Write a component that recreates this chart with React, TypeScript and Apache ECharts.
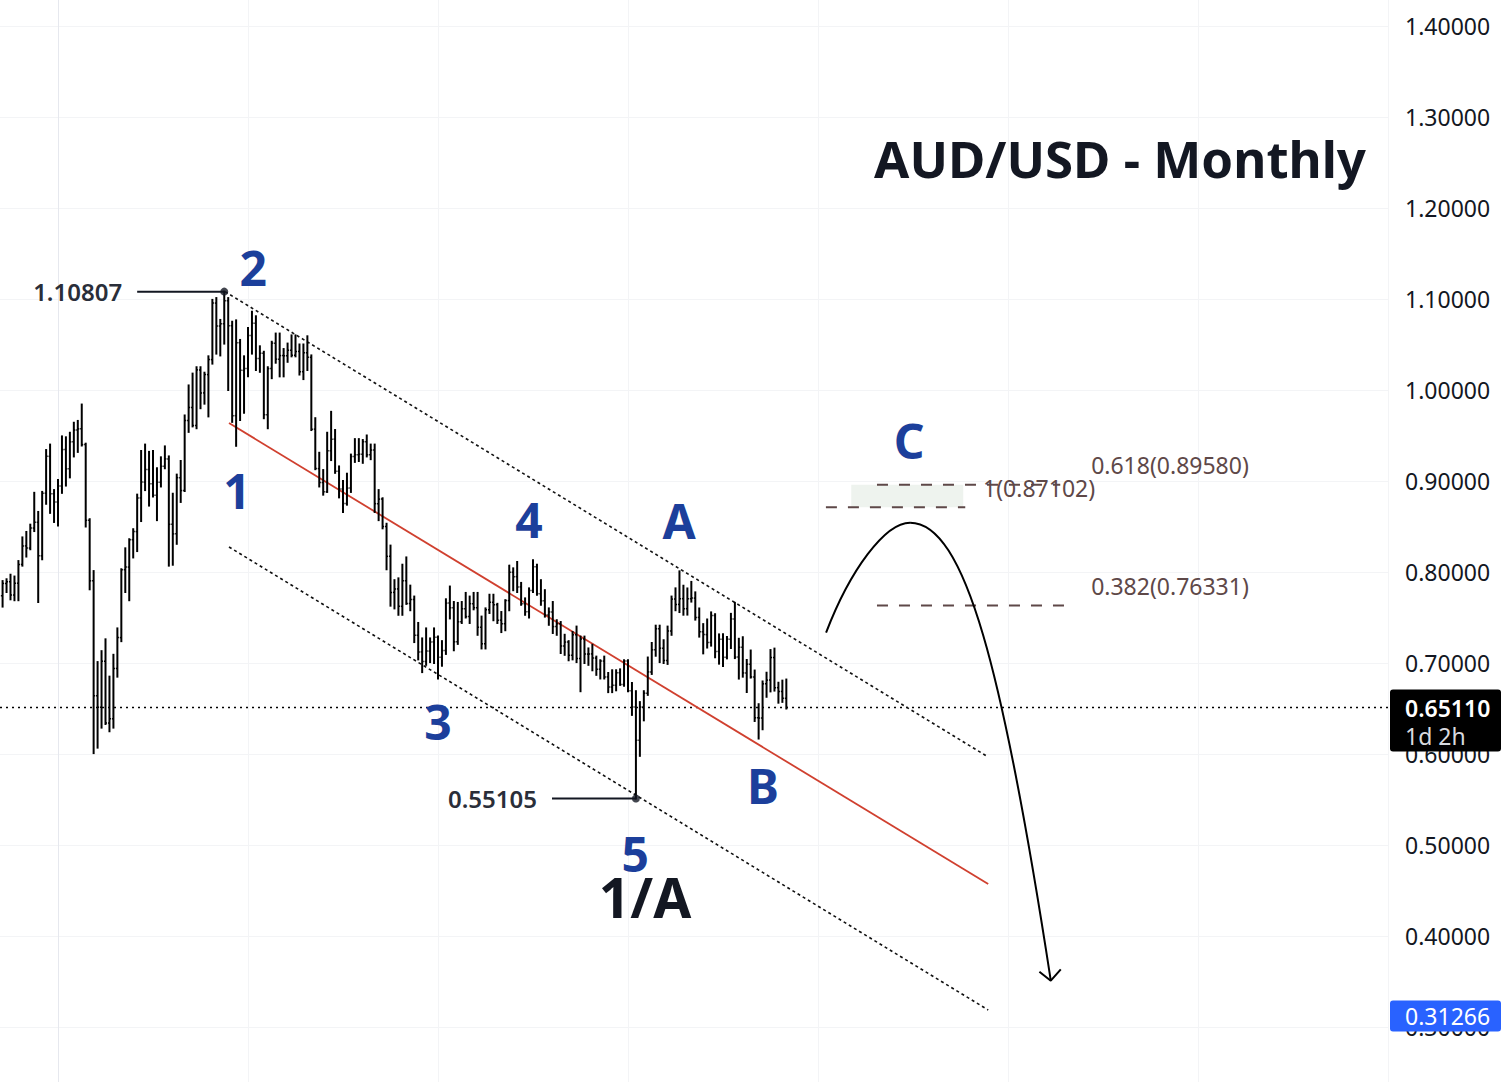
import React, { useEffect, useRef } from "react";
import * as echarts from "echarts";

// Monthly AUD/USD bars, first bar = Oct 2006. x value = months since Jan 2008.
const FIRST_MONTH_OFFSET = -15;

const opens = [
  0.7465, 0.7740, 0.7875,
  0.7893, 0.7747, 0.7877, 0.8083, 0.8287, 0.8263, 0.8483, 0.8546, 0.8178, 0.8866, 0.9271, 0.8860,
  0.8770, 0.8945, 0.9345, 0.9134, 0.9430, 0.9560, 0.9573, 0.9400, 0.8568, 0.7903, 0.6640, 0.6514,
  0.7020, 0.6340, 0.6387, 0.6940, 0.7279, 0.8025, 0.8054, 0.8355, 0.8444, 0.8814, 0.8988, 0.9126,
  0.8971, 0.8843, 0.8986, 0.9162, 0.9243, 0.8524, 0.8419, 0.9037, 0.8895, 0.9665, 0.9808, 0.9610,
  1.0221, 0.9968, 1.0169, 1.0334, 1.0955, 1.0703, 1.0728, 1.0981, 1.0707, 0.9718, 1.0520, 1.0216,
  1.0236, 1.0600, 1.0734, 1.0346, 1.0404, 0.9729, 1.0235, 1.0515, 1.0339, 1.0378, 1.0376, 1.0437,
  1.0382, 1.0424, 1.0201, 1.0409, 1.0359, 0.9570, 0.9136, 0.8983, 0.8881, 0.9332, 0.9460, 0.9107,
  0.8913, 0.8752, 0.8922, 0.9269, 0.9289, 0.9295, 0.9432, 0.9288, 0.9340, 0.8751, 0.8801, 0.8500,
  0.8172, 0.7776, 0.7814, 0.7623, 0.7904, 0.7654, 0.7698, 0.7305, 0.7122, 0.7017, 0.7131, 0.7232,
  0.7283, 0.7063, 0.7137, 0.7658, 0.7607, 0.7233, 0.7453, 0.7596, 0.7510, 0.7652, 0.7608, 0.7393,
  0.7211, 0.7585, 0.7667, 0.7641, 0.7471, 0.7432, 0.7686, 0.7997, 0.7949, 0.7836, 0.7652, 0.7564,
  0.7797, 0.8059, 0.7762, 0.7683, 0.7528, 0.7561, 0.7400, 0.7431, 0.7187, 0.7230, 0.7085, 0.7310,
  0.7049, 0.7264, 0.7098, 0.7100, 0.7054, 0.6932, 0.7021, 0.6847, 0.6736, 0.6755, 0.6893, 0.6764,
  0.7022, 0.6694, 0.6517, 0.6151, 0.6516, 0.6668, 0.6902, 0.7145, 0.7376, 0.7163, 0.7028, 0.7352,
  0.7702, 0.7644, 0.7707, 0.7597, 0.7706, 0.7713, 0.7501, 0.7343, 0.7312, 0.7226, 0.7522, 0.7127,
  0.7262, 0.7064, 0.7262, 0.7484, 0.7065, 0.7173, 0.6891, 0.6987, 0.6847, 0.6398, 0.6395, 0.6771,
  0.6812, 0.7060, 0.6729, 0.6687, 0.6612,
];

const highs = [
  0.7750, 0.7900, 0.7920,
  0.7970, 0.7950, 0.8120, 0.8380, 0.8440, 0.8520, 0.8870, 0.8660, 0.8880, 0.9340, 0.9400, 0.8900,
  0.9010, 0.9490, 0.9480, 0.9530, 0.9640, 0.9660, 0.9840, 0.9410, 0.8580, 0.8010, 0.7010, 0.7130,
  0.7260, 0.6850, 0.7090, 0.7380, 0.8030, 0.8260, 0.8360, 0.8470, 0.8850, 0.9330, 0.9400, 0.9320,
  0.9330, 0.9140, 0.9260, 0.9380, 0.9270, 0.8860, 0.9070, 0.9220, 0.9720, 1.0050, 1.0180, 1.0250,
  1.0250, 1.0190, 1.0370, 1.0990, 1.1010, 1.0770, 1.10807, 1.1010, 1.0750, 1.0765, 1.0550, 1.0370,
  1.0680, 1.0860, 1.0810, 1.0480, 1.0420, 1.0250, 1.0530, 1.0620, 1.0620, 1.0450, 1.0510, 1.0600,
  1.0600, 1.0500, 1.0500, 1.0590, 1.0380, 0.9690, 0.9310, 0.9120, 0.9530, 0.9760, 0.9560, 0.9160,
  0.9000, 0.9080, 0.9290, 0.9460, 0.9460, 0.9450, 0.9500, 0.9400, 0.9400, 0.8900, 0.8810, 0.8530,
  0.8290, 0.7910, 0.7930, 0.8080, 0.8160, 0.7850, 0.7730, 0.7440, 0.7270, 0.7380, 0.7270, 0.7380,
  0.7290, 0.7240, 0.7700, 0.7840, 0.7670, 0.7660, 0.7670, 0.7770, 0.7730, 0.7770, 0.7770, 0.7510,
  0.7600, 0.7750, 0.7750, 0.7650, 0.7560, 0.7690, 0.8070, 0.8040, 0.8110, 0.7880, 0.7710, 0.7820,
  0.8130, 0.8080, 0.7910, 0.7800, 0.7600, 0.7670, 0.7470, 0.7450, 0.7310, 0.7240, 0.7340, 0.7400,
  0.7290, 0.7290, 0.7160, 0.7200, 0.7070, 0.7030, 0.7070, 0.6890, 0.6920, 0.6920, 0.6930, 0.7030,
  0.7030, 0.6780, 0.6690, 0.6570, 0.6690, 0.7060, 0.7220, 0.7410, 0.7410, 0.7250, 0.7400, 0.7730,
  0.7820, 0.8007, 0.7849, 0.7819, 0.7891, 0.7776, 0.7599, 0.7427, 0.7478, 0.7556, 0.7536, 0.7314,
  0.7315, 0.7286, 0.7540, 0.7661, 0.7266, 0.7283, 0.7033, 0.7137, 0.6917, 0.6547, 0.6797, 0.6893,
  0.7142, 0.7158, 0.6783, 0.6806, 0.6818,
];

const lows = [
  0.7420, 0.7620, 0.7780,
  0.7700, 0.7690, 0.7690, 0.8070, 0.8170, 0.8250, 0.8450, 0.7670, 0.8140, 0.8750, 0.8650, 0.8550,
  0.8510, 0.8870, 0.8950, 0.9040, 0.9270, 0.9320, 0.9390, 0.8500, 0.7810, 0.6010, 0.6070, 0.6290,
  0.6330, 0.6250, 0.6290, 0.6850, 0.7240, 0.7780, 0.7690, 0.8160, 0.8230, 0.8560, 0.8900, 0.8730,
  0.8830, 0.8570, 0.8940, 0.9140, 0.8070, 0.8080, 0.8310, 0.8770, 0.8890, 0.9540, 0.9600, 0.9580,
  0.9800, 0.9850, 0.9710, 1.0290, 1.0400, 1.0380, 1.0510, 1.0000, 0.9650, 0.9387, 0.9670, 0.9750,
  1.0150, 1.0400, 1.0220, 1.0200, 0.9690, 0.9580, 1.0130, 1.0300, 1.0150, 1.0150, 1.0310, 1.0370,
  1.0370, 1.0170, 1.0120, 1.0220, 0.9560, 0.9130, 0.8940, 0.8850, 0.8880, 0.9230, 0.9090, 0.8820,
  0.8660, 0.8740, 0.8880, 0.9210, 0.9220, 0.9200, 0.9270, 0.9240, 0.8660, 0.8570, 0.8480, 0.8030,
  0.7630, 0.7600, 0.7530, 0.7530, 0.7650, 0.7580, 0.7230, 0.7040, 0.6900, 0.6980, 0.7010, 0.7000,
  0.6830, 0.6970, 0.7100, 0.7490, 0.7140, 0.7210, 0.7440, 0.7500, 0.7440, 0.7590, 0.7310, 0.7160,
  0.7160, 0.7550, 0.7470, 0.7440, 0.7340, 0.7360, 0.7580, 0.7800, 0.7780, 0.7640, 0.7530, 0.7500,
  0.7780, 0.7750, 0.7640, 0.7510, 0.7420, 0.7330, 0.7310, 0.7110, 0.7090, 0.7030, 0.7040, 0.7010,
  0.6690, 0.7000, 0.6980, 0.6920, 0.6870, 0.6830, 0.6830, 0.6680, 0.6680, 0.6700, 0.6760, 0.6750,
  0.6690, 0.6430, 0.55105, 0.5980, 0.6370, 0.6650, 0.6880, 0.7080, 0.7010, 0.7000, 0.6990, 0.7310,
  0.7580, 0.7560, 0.7531, 0.7532, 0.7675, 0.7477, 0.7290, 0.7106, 0.7170, 0.7191, 0.7063, 0.6993,
  0.6967, 0.7051, 0.7165, 0.7054, 0.6829, 0.6850, 0.6681, 0.6840, 0.6363, 0.6170, 0.6272, 0.6629,
  0.6688, 0.6697, 0.6564, 0.6573, 0.6500,
];

const closes = [
  0.7740, 0.7875, 0.7893,
  0.7747, 0.7877, 0.8083, 0.8287, 0.8263, 0.8483, 0.8546, 0.8178, 0.8866, 0.9271, 0.8860, 0.8770,
  0.8945, 0.9345, 0.9134, 0.9430, 0.9560, 0.9573, 0.9400, 0.8568, 0.7903, 0.6640, 0.6514, 0.7020,
  0.6340, 0.6387, 0.6940, 0.7279, 0.8025, 0.8054, 0.8355, 0.8444, 0.8814, 0.8988, 0.9126, 0.8971,
  0.8843, 0.8986, 0.9162, 0.9243, 0.8524, 0.8419, 0.9037, 0.8895, 0.9665, 0.9808, 0.9610, 1.0221,
  0.9968, 1.0169, 1.0334, 1.0955, 1.0703, 1.0728, 1.0981, 1.0707, 0.9718, 1.0520, 1.0216, 1.0236,
  1.0600, 1.0734, 1.0346, 1.0404, 0.9729, 1.0235, 1.0515, 1.0339, 1.0378, 1.0376, 1.0437, 1.0382,
  1.0424, 1.0201, 1.0409, 1.0359, 0.9570, 0.9136, 0.8983, 0.8881, 0.9332, 0.9460, 0.9107, 0.8913,
  0.8752, 0.8922, 0.9269, 0.9289, 0.9295, 0.9432, 0.9288, 0.9340, 0.8751, 0.8801, 0.8500, 0.8172,
  0.7776, 0.7814, 0.7623, 0.7904, 0.7654, 0.7698, 0.7305, 0.7122, 0.7017, 0.7131, 0.7232, 0.7283,
  0.7063, 0.7137, 0.7658, 0.7607, 0.7233, 0.7453, 0.7596, 0.7510, 0.7652, 0.7608, 0.7393, 0.7211,
  0.7585, 0.7667, 0.7641, 0.7471, 0.7432, 0.7686, 0.7997, 0.7949, 0.7836, 0.7652, 0.7564, 0.7797,
  0.8059, 0.7762, 0.7683, 0.7528, 0.7561, 0.7400, 0.7431, 0.7187, 0.7230, 0.7085, 0.7310, 0.7049,
  0.7264, 0.7098, 0.7100, 0.7054, 0.6932, 0.7021, 0.6847, 0.6736, 0.6755, 0.6893, 0.6764, 0.7022,
  0.6694, 0.6517, 0.6151, 0.6516, 0.6668, 0.6902, 0.7145, 0.7376, 0.7163, 0.7028, 0.7352, 0.7702,
  0.7644, 0.7707, 0.7597, 0.7706, 0.7713, 0.7501, 0.7343, 0.7312, 0.7226, 0.7522, 0.7127, 0.7262,
  0.7064, 0.7262, 0.7484, 0.7065, 0.7173, 0.6891, 0.6987, 0.6847, 0.6398, 0.6395, 0.6771, 0.6812,
  0.7060, 0.6729, 0.6687, 0.6612, 0.6511,
];

// axes
const X_MIN = -48;
const X_MAX = 336;
const X_GRID_STEP = 48;
const Y_MIN = 0.2;
const Y_MAX = 1.5;
const Y_STEP = 0.1;

// prices shown on the chart
const LAST_PRICE = 0.6511;
const LAST_PRICE_TEXT = "0.65110";
const COUNTDOWN_TEXT = "1d 2h";
const TARGET_PRICE = 0.31266;
const TARGET_TEXT = "0.31266";
const PEAK = { m: 42, v: 1.10807, text: "1.10807", lineFrom: 20.0, textAt: 16.2 };
const TROUGH = { m: 146, v: 0.55105, text: "0.55105", lineFrom: 124.8, textAt: 121.0 };

// channel (month offset, price)
const channelUpper = [[42.2, 1.10807], [235.0, 0.5967]];
const channelMid = [[43.2, 0.9637], [235.0, 0.4571]];
const channelLower = [[43.2, 0.8275], [235.0, 0.3187]];

// Elliott wave labels
const waveTexts = ["2", "1", "4", "3", "5", "A", "B", "C"];
const waveX = [49.3, 45.2, 119.0, 96.0, 145.8, 156.9, 178.1, 215.0];
const waveY = [1.1341, 0.8901, 0.8582, 0.6352, 0.4912, 0.8571, 0.5659, 0.944];
const degreeLabel = { text: "1/A", m: 148.3, v: 0.4451 };

// Fibonacci levels
const fibTexts = ["0.618(0.89580)", "1(0.87102)", "0.382(0.76331)"];
const fibValues = [0.8958, 0.87102, 0.76331];
const fibFrom = [206.9, 194.0, 206.9];
const fibTo = [253.2, 229.2, 254.4];
const fibLabelX = [261.0, 233.7, 261.0];
const zoneBox = [[200.4, 0.8958], [228.7, 0.87102]];

// projected path: two cubic Bezier segments [start, control1, control2, end] (month offset, price)
const curveRise = [[194.04, 0.7333], [200.1, 0.8022], [208.94, 0.8542], [215.26, 0.8542]];
const curveFall = [[215.26, 0.8542], [229.16, 0.8542], [238.76, 0.6923], [250.81, 0.3509]];
const arrowHead = [[247.93, 0.3608], [250.81, 0.3509], [253.33, 0.3634]];

const TITLE = "AUD/USD - Monthly";
const FONT = '"Noto Sans", sans-serif';
const WAVE_COLOR = "#1c3f9b";
const FIB_COLOR = "#5e4848";
const INK = "#131722";

export default function App() {
  const ref = useRef<HTMLDivElement>(null);

  useEffect(() => {
    const chart = echarts.init(ref.current as HTMLDivElement, null, { renderer: "svg" });
    const bars = opens.map((o, i) => [i + FIRST_MONTH_OFFSET, o, highs[i], lows[i], closes[i]]);

    const plainLine = (data: number[][], color: string, width: number, type: any, extra: any = {}) => ({
      type: "line",
      data,
      symbol: "none",
      silent: true,
      lineStyle: { color, width, type },
      z: 3,
      ...extra,
    });

    chart.setOption({
      animation: false,
      backgroundColor: "#ffffff",
      grid: { left: -132, right: 120, top: -65, bottom: -36, outerBoundsMode: "none" },
      xAxis: {
        type: "value",
        min: X_MIN,
        max: X_MAX,
        interval: X_GRID_STEP,
        axisLabel: { show: false },
        axisLine: { show: false },
        axisTick: { show: false },
        splitLine: { show: true, lineStyle: { color: "#f3f4f6", width: 1 } },
      },
      yAxis: {
        type: "value",
        position: "right",
        min: Y_MIN,
        max: Y_MAX,
        interval: Y_STEP,
        axisLine: { show: true, lineStyle: { color: "#e6e8ee", width: 1 } },
        axisTick: { show: false },
        axisLabel: {
          margin: 17,
          color: INK,
          fontSize: 23,
          fontFamily: FONT,
          showMinLabel: false,
          showMaxLabel: false,
          formatter: (v: number) => v.toFixed(5),
        },
        splitLine: { show: true, lineStyle: { color: "#f3f4f6", width: 1 } },
      },
      series: [
        {
          type: "custom",
          name: "AUDUSD",
          data: bars,
          encode: { x: 0, y: [1, 2, 3, 4] },
          z: 4,
          renderItem: (params: any, api: any) => {
            const x = api.value(0);
            const pH = api.coord([x, api.value(2)]);
            const pL = api.coord([x, api.value(3)]);
            const pO = api.coord([x, api.value(1)]);
            const pC = api.coord([x, api.value(4)]);
            const st = { stroke: "#000000", lineWidth: 2 };
            return {
              type: "group",
              children: [
                { type: "line", shape: { x1: pH[0], y1: pH[1] - 1, x2: pL[0], y2: pL[1] + 1 }, style: st },
                { type: "line", shape: { x1: pO[0] - 1.5, y1: pO[1], x2: pO[0], y2: pO[1] }, style: { stroke: "#000", lineWidth: 1.5 } },
                { type: "line", shape: { x1: pC[0], y1: pC[1], x2: pC[0] + 1.5, y2: pC[1] }, style: { stroke: "#000", lineWidth: 1.5 } },
              ],
            };
          },
        },
        plainLine([[X_MIN, LAST_PRICE], [X_MAX, LAST_PRICE]], "#000000", 1.6, [2, 4]),
        plainLine(channelUpper, "#111111", 1.6, [3, 3]),
        plainLine(channelMid, "#d0402f", 1.8, "solid"),
        plainLine(channelLower, "#111111", 1.6, [3, 3]),
        plainLine([[fibFrom[0], fibValues[0]], [fibTo[0], fibValues[0]]], FIB_COLOR, 2, [11, 11]),
        plainLine([[fibFrom[1], fibValues[1]], [fibTo[1], fibValues[1]]], FIB_COLOR, 2, [11, 11], {
          markArea: {
            silent: true,
            itemStyle: { color: "#eef3ee" },
            data: [[{ coord: zoneBox[0] }, { coord: zoneBox[1] }]],
          },
        }),
        plainLine([[fibFrom[2], fibValues[2]], [fibTo[2], fibValues[2]]], FIB_COLOR, 2, [11, 11]),
        plainLine(arrowHead, "#000000", 2, "solid"),
        plainLine([[PEAK.lineFrom, PEAK.v], [PEAK.m, PEAK.v]], INK, 2, "solid"),
        plainLine([[TROUGH.lineFrom, TROUGH.v], [TROUGH.m, TROUGH.v]], INK, 2, "solid"),
        {
          type: "scatter",
          data: [[PEAK.m, PEAK.v], [TROUGH.m, TROUGH.v]],
          symbolSize: 8,
          itemStyle: { color: INK },
          silent: true,
          z: 5,
        },
      ],
    });

    const px = (m: number, v: number) => chart.convertToPixel({ gridIndex: 0 }, [m, v]) as number[];
    const txt = (x: number, y: number, text: string, font: string, fill: string, align: string) => ({
      type: "text",
      x,
      y,
      z: 100,
      silent: true,
      style: {
        text,
        font,
        fill,
        textAlign: align,
        align,
        textVerticalAlign: "middle",
        verticalAlign: "middle",
      },
    });

    const graphics: any[] = [];

    // projected curve
    [curveRise, curveFall].forEach((seg) => {
      const p = seg.map((c) => px(c[0], c[1]));
      graphics.push({
        type: "bezierCurve",
        z: 50,
        silent: true,
        shape: {
          x1: p[0][0], y1: p[0][1],
          cpx1: p[1][0], cpy1: p[1][1],
          cpx2: p[2][0], cpy2: p[2][1],
          x2: p[3][0], y2: p[3][1],
        },
        style: { stroke: "#000000", lineWidth: 2, fill: null },
      });
    });

    waveTexts.forEach((t, i) => {
      const p = px(waveX[i], waveY[i]);
      graphics.push(txt(p[0], p[1], t, `bold 48px ${FONT}`, WAVE_COLOR, "center"));
    });
    {
      const p = px(degreeLabel.m, degreeLabel.v);
      graphics.push(txt(p[0], p[1] + 2, degreeLabel.text, `bold 55px ${FONT}`, INK, "center"));
    }
    {
      const p = px(PEAK.textAt, PEAK.v);
      graphics.push(txt(p[0], p[1], PEAK.text, `600 24px ${FONT}`, "#2a2e39", "right"));
      const q = px(TROUGH.textAt, TROUGH.v);
      graphics.push(txt(q[0], q[1], TROUGH.text, `600 24px ${FONT}`, "#2a2e39", "right"));
    }
    fibTexts.forEach((t, i) => {
      const p = px(fibLabelX[i], fibValues[i]);
      graphics.push(txt(p[0], p[1] - 19.5, t, `23px ${FONT}`, FIB_COLOR, "left"));
    });
    graphics.push(txt(1366, 158, TITLE, `bold 51px ${FONT}`, INK, "right"));

    // price tags on the axis
    const axisX = px(X_MAX, LAST_PRICE)[0];
    const yLast = px(X_MAX, LAST_PRICE)[1];
    graphics.push({
      type: "rect",
      z: 99,
      silent: true,
      shape: { x: axisX + 2, y: yLast - 18, width: 111, height: 62, r: 3 },
      style: { fill: "#000000" },
    });
    graphics.push(txt(axisX + 17, yLast + 1, LAST_PRICE_TEXT, `600 23px ${FONT}`, "#ffffff", "left"));
    graphics.push(txt(axisX + 17, yLast + 29, COUNTDOWN_TEXT, `23px ${FONT}`, "#d8dadf", "left"));
    const yTarget = px(X_MAX, TARGET_PRICE)[1];
    graphics.push({
      type: "rect",
      z: 99,
      silent: true,
      shape: { x: axisX + 2, y: yTarget - 15, width: 111, height: 31, r: 3 },
      style: { fill: "#2962ff" },
    });
    graphics.push(txt(axisX + 17, yTarget + 1, TARGET_TEXT, `23px ${FONT}`, "#ffffff", "left"));

    chart.setOption({ graphic: { elements: graphics } });

    return () => chart.dispose();
  }, []);

  return (
    <div
      ref={ref}
      style={{ position: "fixed", left: 0, top: 0, width: 1508, height: 1082, background: "#ffffff" }}
    />
  );
}
